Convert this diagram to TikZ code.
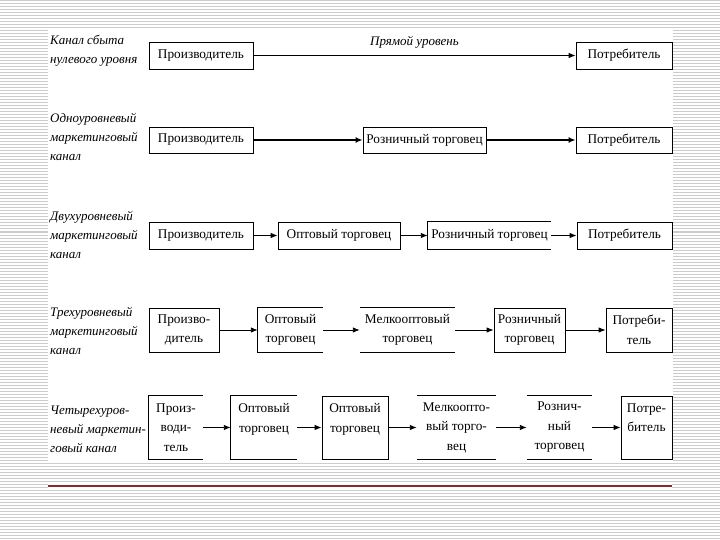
\documentclass[tikz,border=0pt]{standalone}
\usepackage{fontspec}
\setmainfont{Liberation Serif}
\usetikzlibrary{arrows.meta}
\tikzset{
  bgline/.style={draw=black!20, line width=1pt},
  boxbase/.style={rectangle, inner sep=0pt, align=center,
    font=\fontsize{13.3}{19.5}\selectfont},
  fullbox/.style={boxbase, draw, line width=0.8pt},
  openbox/.style={boxbase},
  edge/.style={line width=0.8pt},
  conn/.style={line width=0.9pt, -{Latex[length=7pt,width=5.5pt]}},
  thickconn/.style={line width=1.8pt, -{Latex[length=7pt,width=6pt]}},
  rowlabel/.style={anchor=west, align=left, inner sep=0pt,
    font=\fontsize{13}{19}\selectfont\itshape}
}
\begin{document}
\begin{tikzpicture}[x=1pt,y=-1pt]
\useasboundingbox (0,0) rectangle (720,540);
% background pattern
\fill[white] (0,0) rectangle (720,540);
\foreach \i in {0,...,180} \draw[bgline] (0,\i*3+1) -- (720,\i*3+1);
\fill[white] (48,28) rectangle (673,463);
\fill[white] (48,482) rectangle (672,490);
\draw[draw={rgb,255:red,140;green,40;blue,40}, line width=1.3pt] (48,486) -- (672,486);

% row labels
\node[rowlabel] (l1) at (50,51) {Канал сбыта\\нулевого уровня};
\node[rowlabel] (l2) at (50,137) {Одноуровневый\\маркетинговый\\канал};
\node[rowlabel] (l3) at (50,235) {Двухуровневый\\маркетинговый\\канал};
\node[rowlabel] (l4) at (50,331) {Трехуровневый\\маркетинговый\\канал};
\node[rowlabel] (l5) at (50,429) {Четырехуров-\\невый маркетин-\\говый канал};

% row 1
\node[fullbox, minimum width=104, minimum height=27] (p1) at (201,55.5) {Производитель};
\node[fullbox, minimum width=96, minimum height=27] (c1) at (624,55.5) {Потребитель};
\draw[conn] (p1) -- (c1) node[midway, above=3pt, font=\fontsize{13}{15}\selectfont\itshape] (t1) {Прямой уровень};

% row 2
\node[fullbox, minimum width=104, minimum height=26] (p2) at (201,140) {Производитель};
\node[fullbox, minimum width=123, minimum height=26] (r2) at (424.5,140) {Розничный торговец};
\node[fullbox, minimum width=96, minimum height=26] (c2) at (624,140) {Потребитель};
\draw[thickconn] (p2) -- (r2);
\draw[thickconn] (r2) -- (c2);

% row 3
\node[fullbox, minimum width=104, minimum height=27] (p3) at (201,235.5) {Производитель};
\node[fullbox, minimum width=122, minimum height=27] (o3) at (339,235.5) {Оптовый торговец};
\node[openbox, minimum width=123, minimum height=27] (r3) at (489.5,235.5) {Розничный торговец};
\draw[edge] (r3.north east) -- (r3.north west) -- (r3.south west) -- (r3.south east);
\node[fullbox, minimum width=95, minimum height=27] (c3) at (624.5,235.5) {Потребитель};
\draw[conn] (p3) -- (o3);
\draw[conn] (o3) -- (r3);
\draw[conn] (r3) -- (c3);

% row 4
\node[fullbox, minimum width=70, minimum height=44] (p4) at (184,330) {Произво-\\дитель};
\node[openbox, minimum width=65, minimum height=44] (o4) at (290.5,330) {Оптовый\\торговец};
\draw[edge] (o4.north east) -- (o4.north west) -- (o4.south west) -- (o4.south east);
\node[openbox, minimum width=95, minimum height=44] (m4) at (407.5,330) {Мелкооптовый\\торговец};
\draw[edge] (m4.north west) -- (m4.north east);
\draw[edge] (m4.south west) -- (m4.south east);
\node[fullbox, minimum width=71, minimum height=44] (r4) at (529.5,330) {Розничный\\торговец};
\node[fullbox, minimum width=66, minimum height=44] (c4) at (639,330) {Потреби-\\тель};
\draw[conn] (p4) -- (o4);
\draw[conn] (o4) -- (m4);
\draw[conn] (m4) -- (r4);
\draw[conn] (r4) -- (c4);

% row 5
\node[openbox, minimum width=54, minimum height=63] (p5) at (176,427.5) {Произ-\\води-\\тель};
\draw[edge] (p5.north east) -- (p5.north west) -- (p5.south west) -- (p5.south east);
\node[openbox, minimum width=66, minimum height=63] (o5) at (264,427.5) {Оптовый\\торговец\\~};
\draw[edge] (o5.north east) -- (o5.north west) -- (o5.south west) -- (o5.south east);
\node[fullbox, minimum width=66, minimum height=63] (q5) at (355,427.5) {Оптовый\\торговец\\~};
\node[openbox, minimum width=79, minimum height=63] (m5) at (456.5,427.5) {Мелкоопто-\\вый торго-\\вец};
\draw[edge] (m5.north west) -- (m5.north east);
\draw[edge] (m5.south west) -- (m5.south east);
\node[openbox, minimum width=65, minimum height=63] (r5) at (559.5,427.5) {Рознич-\\ный\\торговец};
\draw[edge] (r5.north west) -- (r5.north east);
\draw[edge] (r5.south west) -- (r5.south east);
\node[fullbox, minimum width=51, minimum height=63] (c5) at (646.5,427.5) {Потре-\\битель\\~};
\draw[conn] (p5) -- (o5);
\draw[conn] (o5) -- (q5);
\draw[conn] (q5) -- (m5);
\draw[conn] (m5) -- (r5);
\draw[conn] (r5) -- (c5);
\end{tikzpicture}
\end{document}
